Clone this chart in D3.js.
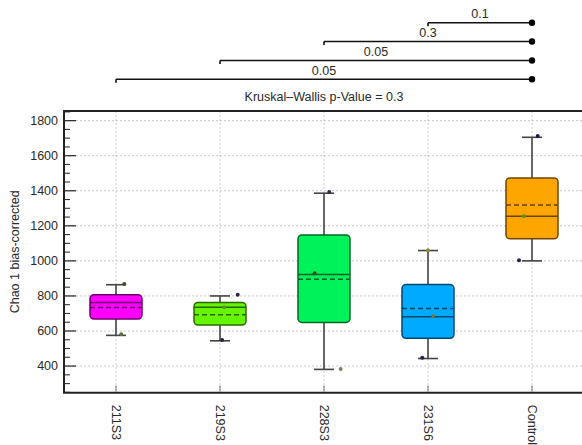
<!DOCTYPE html>
<html>
<head>
<meta charset="utf-8">
<script src="https://cdn.jsdelivr.net/npm/d3@7"></script>
<style>
  html, body { margin: 0; padding: 0; background: #fff; }
  svg { display: block; font-family: "Liberation Sans", Arial, sans-serif; }
</style>
</head>
<body>
<svg id="chart" width="582" height="445"></svg>
<script>
// ---- data ----
const categories   = ["211S3", "219S3", "228S3", "231S6", "Control"];
const whiskerLow   = [575, 544, 381, 443, 1000];
const q1           = [668, 634, 649, 558, 1126];
const medians      = [762, 735, 923, 681, 1254];
const means        = [734, 693, 895, 728, 1319];
const q3           = [807, 763, 1148, 865, 1473];
const whiskerHigh  = [864, 800, 1386, 1059, 1705];
const boxColors    = ["#ff00ff", "#66f500", "#00f25a", "#00aaff", "#ffa500"];

const pointGroup   = ["211S3", "211S3", "219S3", "219S3", "219S3", "228S3", "228S3", "228S3", "231S6", "231S6", "231S6", "Control", "Control", "Control"];
const pointValue   = [868, 581, 807, 735, 548, 1393, 929, 383, 1061, 685, 447, 1712, 1254, 1004];
const pointColor   = ["#4a4a22", "#5d7040", "#3b1f4f", "#5f8f3a", "#2a1f3f", "#2a2a40", "#4a4a22", "#808060", "#8a8a40", "#6a7a40", "#2a1f4f", "#1c1c4c", "#6b8e23", "#2a1f5a"];

const compareFrom  = ["231S6", "228S3", "219S3", "211S3"];
const compareTo    = "Control";
const pValues      = ["0.1", "0.3", "0.05", "0.05"];
const kruskalText  = "Kruskal\u2013Wallis p-Value = 0.3";
const yTicks       = [400, 600, 800, 1000, 1200, 1400, 1600, 1800];
const yTitle       = "Chao 1 bias-corrected";

// ---- layout ----
const svg = d3.select("#chart");
const L = 64, R = 584, T = 111, B = 392.7;
const x = d3.scaleBand().domain(categories).range([L, R]).padding(0);
const y = d3.scaleLinear().domain([248, 1855]).range([B, T]);
const cx = c => x(c) + x.bandwidth() / 2;
const boxW = x.bandwidth() * 0.5;
const capW = 20;
const textCol = "#2a2a2a";

// grid
const minorTicks = d3.range(250, 1851, 50).filter(v => !yTicks.includes(v));
svg.append("g").selectAll("line").data(yTicks).join("line")
  .attr("x1", L).attr("x2", R).attr("y1", d => y(d)).attr("y2", d => y(d))
  .attr("stroke", "#c8c8c8").attr("stroke-width", 1).attr("stroke-dasharray", "2,2");
svg.append("g").selectAll("line").data(categories).join("line")
  .attr("x1", d => cx(d)).attr("x2", d => cx(d)).attr("y1", T).attr("y2", B)
  .attr("stroke", "#c8c8c8").attr("stroke-width", 1).attr("stroke-dasharray", "2,2");

// y axis ticks (inward)
svg.append("g").selectAll("line").data(yTicks).join("line")
  .attr("x1", L - 1).attr("x2", L + 12).attr("y1", d => y(d)).attr("y2", d => y(d))
  .attr("stroke", "#333").attr("stroke-width", 1.3);
svg.append("g").selectAll("line").data(minorTicks).join("line")
  .attr("x1", L).attr("x2", L + 6).attr("y1", d => y(d)).attr("y2", d => y(d))
  .attr("stroke", "#333").attr("stroke-width", 1.1);
svg.append("g").selectAll("text").data(yTicks).join("text")
  .attr("x", L - 6).attr("y", d => y(d)).attr("dy", "0.35em")
  .attr("text-anchor", "end").attr("font-size", 12.5).attr("fill", textCol)
  .text(d => d);

// x ticks (inward)
svg.append("g").selectAll("line").data(categories).join("line")
  .attr("x1", d => cx(d)).attr("x2", d => cx(d)).attr("y1", B - 7).attr("y2", B)
  .attr("stroke", "#444").attr("stroke-width", 1).attr("stroke-dasharray", "2,1");
svg.append("g").selectAll("text").data(categories).join("text")
  .attr("transform", d => `translate(${cx(d)},${B + 12}) rotate(90)`)
  .attr("dy", "0.35em").attr("text-anchor", "start")
  .attr("font-size", 12.5).attr("fill", textCol)
  .text(d => d);

// y title
svg.append("text")
  .attr("transform", `translate(19,${(T + B) / 2}) rotate(-90)`)
  .attr("text-anchor", "middle").attr("font-size", 12.5).attr("fill", textCol)
  .text(yTitle);

// boxes
const idx = d3.range(categories.length);
const g = svg.append("g");
// whiskers
g.selectAll(".wl").data(idx).join("line")
  .attr("x1", i => cx(categories[i])).attr("x2", i => cx(categories[i]))
  .attr("y1", i => y(whiskerHigh[i])).attr("y2", i => y(q3[i]))
  .attr("stroke", "#444").attr("stroke-width", 1.6);
g.selectAll(".wl2").data(idx).join("line")
  .attr("x1", i => cx(categories[i])).attr("x2", i => cx(categories[i]))
  .attr("y1", i => y(q1[i])).attr("y2", i => y(whiskerLow[i]))
  .attr("stroke", "#444").attr("stroke-width", 1.6);
g.selectAll(".capH").data(idx).join("line")
  .attr("x1", i => cx(categories[i]) - capW / 2).attr("x2", i => cx(categories[i]) + capW / 2)
  .attr("y1", i => y(whiskerHigh[i])).attr("y2", i => y(whiskerHigh[i]))
  .attr("stroke", "#444").attr("stroke-width", 1.6);
g.selectAll(".capL").data(idx).join("line")
  .attr("x1", i => cx(categories[i]) - capW / 2).attr("x2", i => cx(categories[i]) + capW / 2)
  .attr("y1", i => y(whiskerLow[i])).attr("y2", i => y(whiskerLow[i]))
  .attr("stroke", "#444").attr("stroke-width", 1.6);
g.selectAll(".box").data(idx).join("rect")
  .attr("x", i => cx(categories[i]) - boxW / 2).attr("width", boxW)
  .attr("y", i => y(q3[i])).attr("height", i => y(q1[i]) - y(q3[i]))
  .attr("rx", 4).attr("ry", 4)
  .attr("fill", i => boxColors[i])
  .attr("stroke", i => d3.color(boxColors[i]).darker(2.4)).attr("stroke-width", 1.5);
g.selectAll(".med").data(idx).join("line")
  .attr("x1", i => cx(categories[i]) - boxW / 2).attr("x2", i => cx(categories[i]) + boxW / 2)
  .attr("y1", i => y(medians[i])).attr("y2", i => y(medians[i]))
  .attr("stroke", i => d3.color(boxColors[i]).darker(2.5)).attr("stroke-width", 1.5);
g.selectAll(".mean").data(idx).join("line")
  .attr("x1", i => cx(categories[i]) - boxW / 2).attr("x2", i => cx(categories[i]) + boxW / 2)
  .attr("y1", i => y(means[i])).attr("y2", i => y(means[i]))
  .attr("stroke", i => d3.color(boxColors[i]).darker(2.5)).attr("stroke-width", 1.5)
  .attr("stroke-dasharray", "5,3");

// points
const jitter = [0.08, 0.05, 0.17, 0.04, 0.02, 0.05, -0.09, 0.16, 0.0, 0.05, -0.055, 0.055, -0.08, -0.125];
g.selectAll(".pt").data(d3.range(pointValue.length)).join("circle")
  .attr("cx", i => cx(pointGroup[i]) + jitter[i] * x.bandwidth())
  .attr("cy", i => y(pointValue[i]))
  .attr("r", 2)
  .attr("fill", i => pointColor[i]);

// frame
svg.append("path")
  .attr("d", `M${R},${T}H${L}V${B}H${R}`)
  .attr("fill", "none").attr("stroke", "#222").attr("stroke-width", 2);

// comparison brackets
const bracketY = d3.scaleLinear().domain([0, compareFrom.length - 1]).range([22.7, 79.3]);
const br = svg.append("g");
compareFrom.forEach((c, i) => {
  const yy = bracketY(i);
  const x1 = cx(c), x2 = cx(compareTo);
  br.append("line").attr("x1", x1).attr("x2", x2).attr("y1", yy).attr("y2", yy)
    .attr("stroke", "#111").attr("stroke-width", 1.6);
  br.append("line").attr("x1", x1).attr("x2", x1).attr("y1", yy).attr("y2", yy + 3.5)
    .attr("stroke", "#111").attr("stroke-width", 1.6);
  br.append("circle").attr("cx", x2).attr("cy", yy).attr("r", 3.2).attr("fill", "#000");
  br.append("text").attr("x", (x1 + x2) / 2).attr("y", yy - 4.5)
    .attr("text-anchor", "middle").attr("font-size", 12.5).attr("fill", textCol)
    .text(pValues[i]);
});
svg.append("text").attr("x", (L + R) / 2).attr("y", 101)
  .attr("text-anchor", "middle").attr("font-size", 12.5).attr("fill", textCol)
  .text(kruskalText);
</script>
</body>
</html>
